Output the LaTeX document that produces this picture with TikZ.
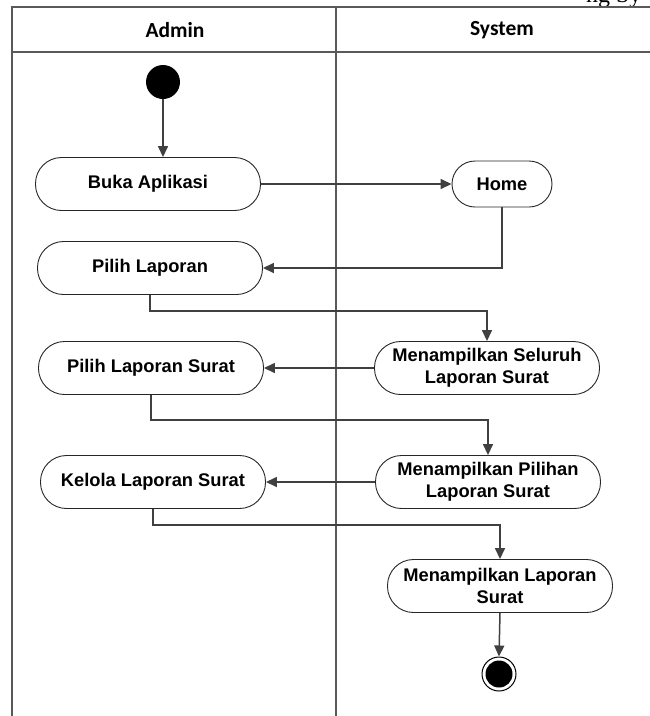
\documentclass[tikz,border=0pt]{standalone}
\usepackage{fontspec}
\usetikzlibrary{arrows.meta}
\setmainfont{Liberation Serif}
\newfontfamily\actfont{Liberation Sans}
\newfontfamily\headfont{Carlito}

\tikzset{
  act/.style={draw=black!85, line width=0.9pt, rounded corners=26pt,
    minimum width=225pt, minimum height=53pt, inner sep=2pt, align=center,
    font=\actfont\bfseries\fontsize{18.3}{22.5}\selectfont},
  flow/.style={draw=black!75, line width=1.5pt, -{Triangle[length=11pt,width=10pt]}},
  lane/.style={draw=black!65, line width=1.5pt},
  head/.style={font=\headfont\bfseries\fontsize{21.5}{24}\selectfont},
}

\begin{document}
\begin{tikzpicture}[x=1pt,y=-1pt]
        \useasboundingbox (0,0) rectangle (650,716);

        % Judul (terpotong)
        \begin{scope}
          \clip (0,0) rectangle (650,716);
          \node[anchor=base east, font=\fontsize{24}{26}\selectfont] (judul) at (645,2) {ng Sy};
        \end{scope}

        % Swimlane
        \draw[lane] (12,716) -- (12,7) -- (650,7);
        \draw[lane] (12,52) -- (650,52);
        \draw[lane] (336,7) -- (336,716);
        \node[head] (admin) at (175,30) {Admin};
        \node[head] (system) at (502,30) {System};

        % Aktivitas
        \node[circle, fill=black, minimum size=34pt, inner sep=0pt] (mulai) at (163,82) {};
        \node[act] (buka) at (148,184) {Buka Aplikasi};
        \node[act, minimum width=100pt, minimum height=46pt, rounded corners=23pt] (home) at (502,184) {Home};
        \node[act] (pilih) at (150,268) {Pilih Laporan};
        \node[act] (pilihsurat) at (151,368) {Pilih Laporan Surat};
        \node[act] (seluruh) at (487,368) {Menampilkan Seluruh\\Laporan Surat};
        \node[act] (kelola) at (153,482) {Kelola Laporan Surat};
        \node[act] (pilihan) at (488,482) {Menampilkan Pilihan\\Laporan Surat};
        \node[act] (tampil) at (500,586) {Menampilkan Laporan\\Surat};
        \node[circle, draw=black, line width=1pt, minimum size=34pt, inner sep=0pt] (selesai) at (499,674) {};
        \fill[black] (selesai.center) circle (13.5pt);

        % Alur
        \draw[flow] (mulai) -- (mulai |- buka.north);
        \draw[flow] (buka.east) -- (home.west);
        \draw[flow] (home.south) |- (pilih.east);
        \draw[flow] (pilih.south) -- ++(0,16) -| (seluruh.north);
        \draw[flow] (seluruh.west) -- (pilihsurat.east);
        \draw[flow] (pilihsurat.south) -- ++(0,25) -| (pilihan.north);
        \draw[flow] (pilihan.west) -- (kelola.east);
        \draw[flow] (kelola.south) -- ++(0,16) -| (tampil.north);
        \draw[flow] (tampil.south) -- (selesai.north);
    \end{tikzpicture}
\end{document}
